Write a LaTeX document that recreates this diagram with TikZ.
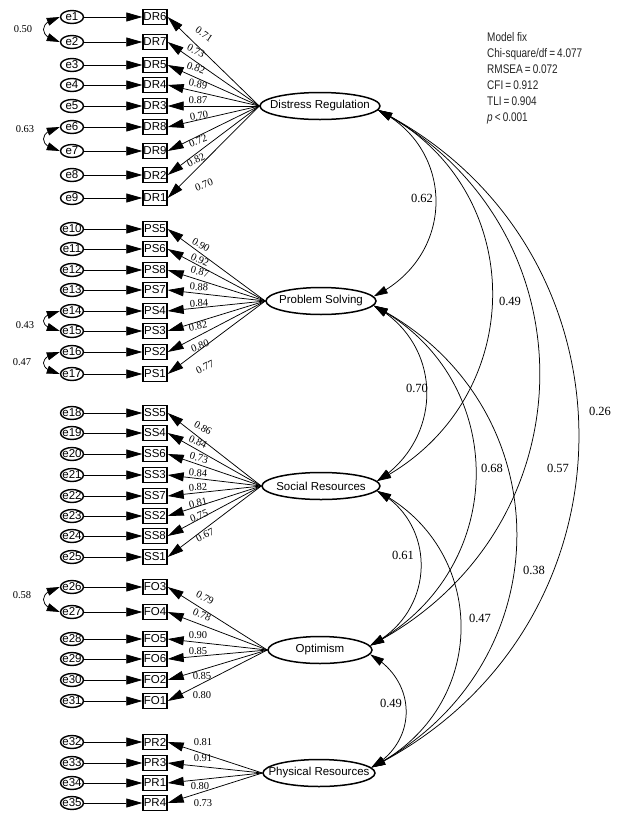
\documentclass[tikz,border=0pt]{standalone}
\usepackage{fontspec}
\setmainfont{Liberation Serif}
\setsansfont{Liberation Sans}
\newfontfamily\narrowfont{Liberation Sans}[FakeStretch=0.8]
\usetikzlibrary{arrows.meta,bending,shapes.geometric,calc}
\begin{document}
\begin{tikzpicture}[x=1pt,y=-1pt,
  err/.style={ellipse,draw,line width=1.4pt,inner sep=0pt,minimum width=23pt,minimum height=13pt,font=\sffamily\fontsize{11.5}{12}\selectfont},
  obs/.style={rectangle,draw,line width=1.4pt,inner sep=0pt,minimum width=24pt,minimum height=15pt,font=\sffamily\fontsize{11.5}{12}\selectfont},
  lat/.style={ellipse,draw,line width=1.5pt,inner sep=0pt,minimum height=27pt,font=\sffamily\fontsize{11.5}{13}\selectfont},
  arr/.style={line width=0.75pt,-{Triangle[length=16pt,width=9pt]}},
  dbl/.style={line width=0.75pt,{Triangle[length=14pt,width=8pt]}-{Triangle[length=14pt,width=8pt]}},
  cov/.style={line width=0.75pt,{Triangle[length=13pt,width=8pt]}-{Triangle[length=13pt,width=8pt]}},
  ldl/.style={font=\fontsize{10.5}{12}\selectfont,inner sep=0pt},
  crl/.style={font=\fontsize{12.5}{14}\selectfont,inner sep=0pt},
]
\useasboundingbox (0,0) rectangle (619,825);
\fill[white] (0,0) rectangle (619,825);

% latent variables
\node[lat,minimum width=120pt] (DR) at (320,106) {\makebox[0pt]{Distress Regulation}};
\node[lat,minimum width=110pt] (PS) at (321,301) {\makebox[0pt]{Problem Solving}};
\node[lat,minimum width=118pt] (SS) at (321,486) {\makebox[0pt]{Social Resources}};
\node[lat,minimum width=104pt] (FO) at (320,650) {\makebox[0pt]{Optimism}};
\node[lat,minimum width=112pt] (PR) at (319,773) {\makebox[0pt]{Physical Resources}};

% indicators, errors, loadings
\foreach \e/\b/\y/\f in {e1/DR6/17/DR, e2/DR7/42/DR, e3/DR5/65/DR, e4/DR4/85/DR, e5/DR3/106/DR, e6/DR8/127/DR, e7/DR9/151/DR, e8/DR2/175/DR, e9/DR1/198/DR,
  e10/PS5/229/PS, e11/PS6/249/PS, e12/PS8/270/PS, e13/PS7/290/PS, e14/PS4/311/PS, e15/PS3/331/PS, e16/PS2/352/PS, e17/PS1/374/PS,
  e18/SS5/413/SS, e19/SS4/433/SS, e20/SS6/454/SS, e21/SS3/475/SS, e22/SS7/496/SS, e23/SS2/516/SS, e24/SS8/536/SS, e25/SS1/557/SS,
  e26/FO3/587/FO, e27/FO4/612/FO, e28/FO5/639/FO, e29/FO6/659/FO, e30/FO2/680/FO, e31/FO1/701/FO,
  e32/PR2/742/PR, e33/PR3/763/PR, e34/PR1/783/PR, e35/PR4/803/PR}{
  \node[err] (\e) at (72,\y) {\makebox[0pt]{\e}};
  \node[obs] (\b) at (155,\y) {\makebox[0pt]{\b}};
  \draw[arr] (\e) -- (\b);
  \draw[arr] (\f.west) -- (\b.east);
}

% loading labels
\foreach \x/\y/\r/\t [count=\i] in {204/34/-35/0.71, 196/51/-28/0.73, 196/68/-20/0.82, 198/84/-10/0.89, 198/100/-2/0.87, 199/116/10/0.70, 198/141/20/0.72, 196/160/26/0.82, 204/185/20/0.70,
  201/245/-30/0.90, 200/260/-24/0.92, 200/272/-15/0.87, 199/287/-4/0.88, 199/303/4/0.84, 198/326/12/0.82, 200/346/20/0.80, 205/367/26/0.77,
  203/428/-30/0.86, 198/442/-24/0.84, 199/458/-16/0.73, 198/473/-5/0.84, 198/487/4/0.82, 198/503/13/0.81, 199/516/20/0.75, 205/535/26/0.67,
  205/598/-27/0.79, 202/615/-23/0.78, 198/635/0/0.90, 198/651/0/0.85, 202/676/3/0.85, 202/695/0/0.80,
  203/742/0/0.81, 203/758/0/0.91, 200/786/0/0.80, 203/803/0/0.73}{
  \node[ldl,rotate=\r] (L\i) at (\x,\y) {\t};
}

% error covariances
\foreach \a/\b/\ya/\yb/\lx/\ly/\t in {e1/e2/17/42/23/29/0.50, e6/e7/127/151/25/129/0.63, e14/e15/311/331/25/325/0.43, e16/e17/352/374/22/362/0.47, e26/e27/587/612/22/595/0.58}{
  \draw[cov] (\a.west) .. controls (38,{\ya+0.2*(\yb-\ya)}) and (38,{\yb-0.2*(\yb-\ya)}) .. (\b.west);
  \node[ldl] (C\a) at (\lx,\ly) {\t};
}

% factor correlations
\draw[dbl] (DR.-4) .. controls (456,149) and (456,257) .. (PS.5);
\draw[dbl] (DR.-4) .. controls (531,186) and (531,402) .. (SS.5);
\draw[dbl] (DR.-4) .. controls (595,223) and (595,530) .. (FO.5);
\draw[dbl] (DR.-4) .. controls (647,246) and (647,630) .. (PR.6);
\draw[dbl] (PS.-5) .. controls (444,344) and (444,439) .. (SS.5);
\draw[dbl] (PS.-5) .. controls (511,377) and (511,571) .. (FO.5);
\draw[dbl] (PS.-5) .. controls (565,403) and (565,668) .. (PR.6);
\draw[dbl] (SS.-5) .. controls (437,523) and (437,612) .. (FO.5);
\draw[dbl] (SS.-5) .. controls (490,549) and (490,709) .. (PR.6);
\draw[dbl] (FO.-5) .. controls (418,681) and (418,742) .. (PR.6);

\foreach \x/\y/\t [count=\i] in {422/198/0.62, 510/301/0.49, 417/388/0.70, 492/468/0.68, 558/468/0.57, 600/411/0.26, 403/555/0.61, 534/570/0.38, 480/618/0.47, 391/703/0.49}{
  \node[crl] (R\i) at (\x,\y) {\t};
}

% model fit
\node[anchor=north west,inner sep=0pt,align=left,text=black!85,font=\narrowfont\fontsize{12.5}{16}\selectfont] (fit) at (487,32)
  {Model fix\\Chi-square/df\,=\,4.077\\RMSEA\,=\,0.072\\CFI\,=\,0.912\\TLI\,=\,0.904\\\textit{p}\,<\,0.001};
\end{tikzpicture}
\end{document}
